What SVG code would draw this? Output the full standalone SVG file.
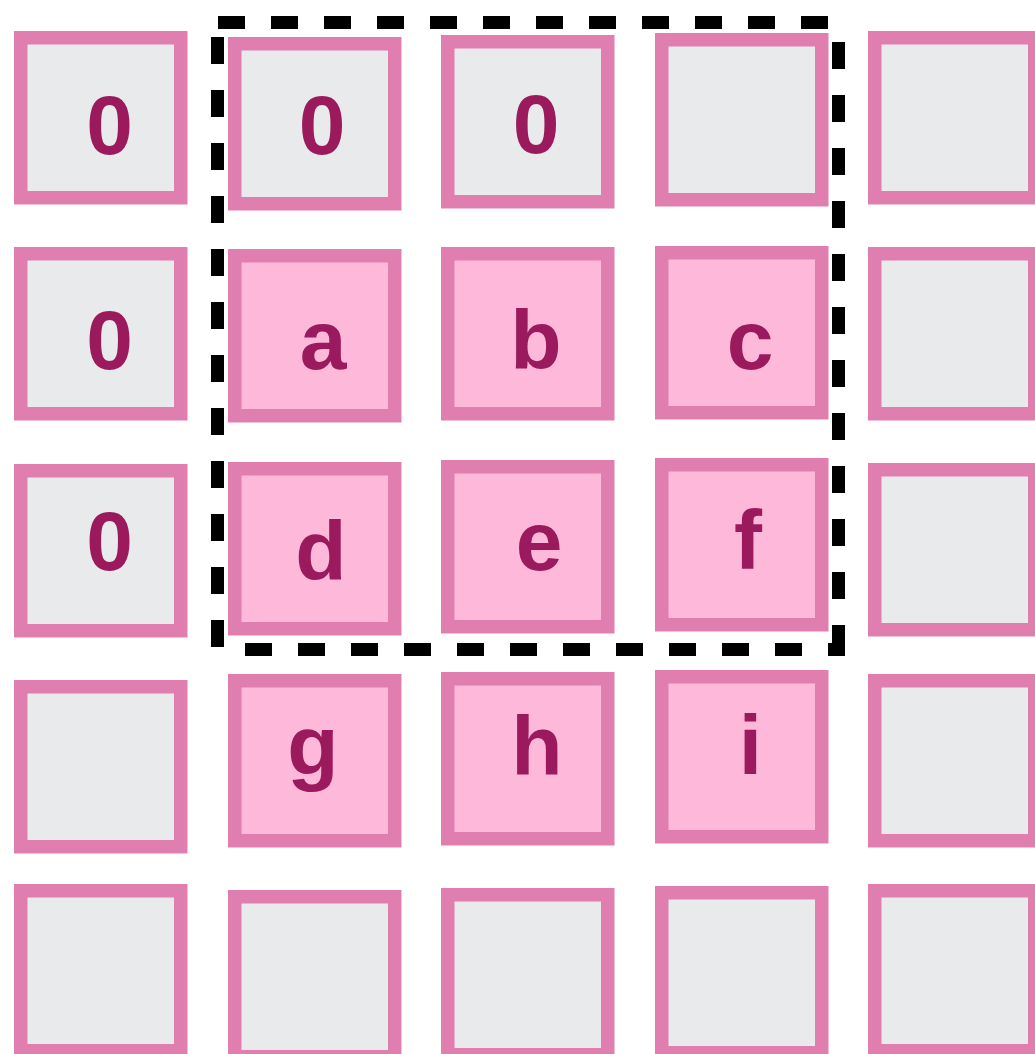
<svg xmlns="http://www.w3.org/2000/svg" width="1035" height="1054" viewBox="0 0 1035 1054">
<style>
.g{fill:#E9EAEC;stroke:#E07EAF;stroke-width:13.5}
.p{fill:#FDB8DA;stroke:#E07EAF;stroke-width:13.5}
.t{font-family:"Liberation Sans",Arial,sans-serif;font-weight:bold;font-size:84px;fill:#9B1A5E;text-anchor:middle}
.d{fill:none;stroke:#000;stroke-width:13;stroke-dasharray:27 26}
</style>
<rect width="1035" height="1054" fill="#fff"/>
<g id="r0c0"><rect class="g" x="20.75" y="37.75" width="160" height="160"/><text class="t" x="109.5" y="154">0</text></g>
<g id="r0c1"><rect class="g" x="234.75" y="43.75" width="160" height="160"/><text class="t" x="322" y="154">0</text></g>
<g id="r0c2"><rect class="g" x="447.75" y="41.75" width="160" height="160"/><text class="t" x="536" y="153">0</text></g>
<g id="r0c3"><rect class="g" x="661.75" y="39.75" width="160" height="160"/></g>
<g id="r0c4"><rect class="g" x="874.75" y="37.75" width="160" height="160"/></g>

<g id="r1c0"><rect class="g" x="20.75" y="253.75" width="160" height="160"/><text class="t" x="109.5" y="369">0</text></g>
<g id="r1c1"><rect class="p" x="234.75" y="255.75" width="160" height="160"/><text class="t" x="323" y="369">a</text></g>
<g id="r1c2"><rect class="p" x="447.75" y="253.75" width="160" height="160"/><text class="t" x="536" y="369">b</text></g>
<g id="r1c3"><rect class="p" x="661.75" y="252.75" width="160" height="160"/><text class="t" x="750" y="369">c</text></g>
<g id="r1c4"><rect class="g" x="874.75" y="253.75" width="160" height="160"/></g>

<g id="r2c0"><rect class="g" x="20.75" y="470.75" width="160" height="160"/><text class="t" x="109.5" y="570">0</text></g>
<g id="r2c1"><rect class="p" x="234.75" y="468.75" width="160" height="160"/><text class="t" x="321" y="580">d</text></g>
<g id="r2c2"><rect class="p" x="447.75" y="466.75" width="160" height="160"/><text class="t" x="539" y="570">e</text></g>
<g id="r2c3"><rect class="p" x="661.75" y="464.75" width="160" height="160"/><text class="t" x="748" y="569">f</text></g>
<g id="r2c4"><rect class="g" x="874.75" y="469.75" width="160" height="160"/></g>

<g id="r3c0"><rect class="g" x="20.75" y="686.75" width="160" height="160"/></g>
<g id="r3c1"><rect class="p" x="234.75" y="680.75" width="160" height="160"/><text class="t" x="313" y="775">g</text></g>
<g id="r3c2"><rect class="p" x="447.75" y="678.75" width="160" height="160"/><text class="t" x="537" y="775">h</text></g>
<g id="r3c3"><rect class="p" x="661.75" y="676.75" width="160" height="160"/><text class="t" x="750.5" y="774">i</text></g>
<g id="r3c4"><rect class="g" x="874.75" y="680.75" width="160" height="160"/></g>

<g id="r4c0"><rect class="g" x="20.75" y="890.75" width="160" height="160"/></g>
<g id="r4c1"><rect class="g" x="234.75" y="896.75" width="160" height="160"/></g>
<g id="r4c2"><rect class="g" x="447.75" y="894.75" width="160" height="160"/></g>
<g id="r4c3"><rect class="g" x="661.75" y="892.75" width="160" height="160"/></g>
<g id="r4c4"><rect class="g" x="874.75" y="890.75" width="160" height="160"/></g>

<g id="connectors">
<path class="d" d="M218 22.5 H838.5"/>
<path class="d" d="M838.5 42 V649.5"/>
<path class="d" d="M217.5 37 V656"/>
<path class="d" d="M245 649.5 H845"/>
</g>
</svg>
